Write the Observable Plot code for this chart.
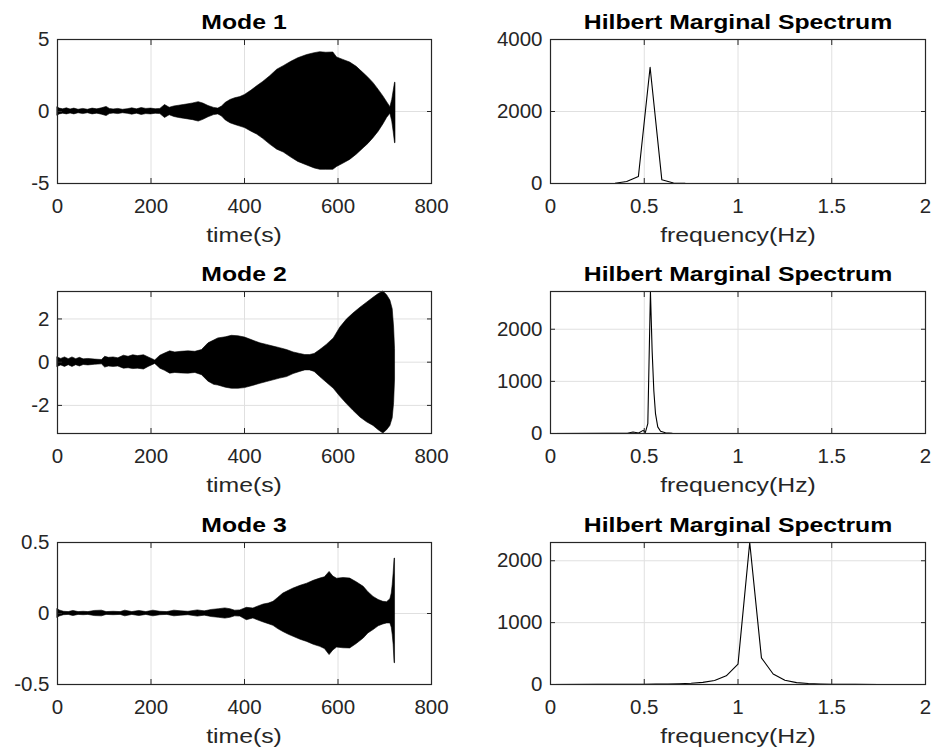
<!DOCTYPE html>
<html>
<head>
<meta charset="utf-8">
<script src="https://cdn.jsdelivr.net/npm/d3@7"></script>
<script src="https://cdn.jsdelivr.net/npm/@observablehq/plot@0.6"></script>
<style>
  html, body { margin: 0; padding: 0; background: #fff; }
  #fig { position: relative; width: 933px; height: 754px; background: #fff; overflow: hidden; }
  #fig > svg { position: absolute; }
  .lbl {
    position: absolute; width: 500px; height: 0; line-height: 0; text-align: center; white-space: nowrap;
    font-family: 'Liberation Sans', Arial, Helvetica, sans-serif; font-size: 21px;
    transform: scaleX(1.18); transform-origin: 50% 0;
  }
  .lbl.title { font-weight: bold; color: #000; }
  .lbl.axis { color: #262626; }
</style>
</head>
<body>
<div id="fig"></div>
<script>
// ---------- tick labels ----------
const timeTicks = [0, 200, 400, 600, 800];
const freqTicks = [0, 0.5, 1, 1.5, 2];
const mode1YTicks = [-5, 0, 5];
const mode2YTicks = [-2, 0, 2];
const mode3YTicks = [-0.5, 0, 0.5];
const spec1YTicks = [0, 2000, 4000];
const spec2YTicks = [0, 1000, 2000];
const spec3YTicks = [0, 1000, 2000];

// ---------- titles ----------
const modeTitles = ["Mode 1", "Mode 2", "Mode 3"];
const specTitle = "Hilbert Marginal Spectrum";
const timeLabel = "time(s)";
const freqLabel = "frequency(Hz)";

// ---------- Mode 1 envelope (time s, upper, lower) ----------
const mode1T = [0, 5, 12, 20, 28, 36, 45, 55, 65, 75, 85, 95, 105, 112, 120, 130, 140, 150, 160, 170, 180, 190, 200, 210, 220, 230, 240, 250, 260, 270, 280, 290, 302, 312, 323, 335, 344, 352, 360, 370, 380, 391, 401, 415, 427, 440, 455, 470, 484, 500, 515, 534, 550, 562, 575, 590, 598, 610, 626, 640, 655, 665, 676, 687, 697, 705, 712, 716, 719, 722, 723];
const mode1Upper = [0.28, 0.2, 0.15, 0.22, 0.14, 0.2, 0.12, 0.18, 0.12, 0.2,
  0.15, 0.22, 0.32, 0.18, 0.14, 0.18, 0.12, 0.16, 0.22, 0.15,
  0.24, 0.18, 0.2, 0.16, 0.18, 0.45, 0.26, 0.35, 0.4, 0.45,
  0.5, 0.56, 0.65, 0.55, 0.38, 0.25, 0.2, 0.35, 0.6, 0.8,
  0.92, 1.0, 1.15, 1.45, 1.75, 2.05, 2.45, 2.9, 3.15, 3.45,
  3.7, 3.92, 4.05, 4.12, 4.08, 4.1, 3.75, 3.6, 3.4, 3.1,
  2.65, 2.35, 1.97, 1.5, 1.05, 0.65, 0.3, 0.8, 1.4, 2.0, 2.0];
const mode1Lower = [-0.28, -0.2, -0.15, -0.2, -0.14, -0.2, -0.12, -0.18, -0.12, -0.2,
  -0.15, -0.22, -0.32, -0.18, -0.14, -0.18, -0.12, -0.16, -0.22, -0.15,
  -0.24, -0.18, -0.2, -0.16, -0.18, -0.45, -0.26, -0.38, -0.45, -0.5,
  -0.55, -0.6, -0.7, -0.58, -0.4, -0.25, -0.2, -0.35, -0.62, -0.82,
  -0.93, -1.05, -1.15, -1.4, -1.6, -1.9, -2.3, -2.65, -2.85, -3.2,
  -3.5, -3.75, -3.95, -4.05, -4.05, -4.05, -3.85, -3.65, -3.36, -3.0,
  -2.55, -2.25, -1.85, -1.4, -0.9, -0.45, -0.15, -0.7, -1.4, -2.2, -2.2];

// ---------- Mode 2 envelope ----------
const mode2T = [0, 8, 16, 24, 32, 40, 48, 56, 66, 80, 95, 102, 110, 120, 130, 142, 152, 162, 172, 185, 195, 209, 220, 230, 241, 252, 265, 280, 295, 309, 323, 335, 344, 360, 373, 387, 401, 418, 434, 448, 462, 476, 491, 505, 519, 530, 540, 550, 562, 576, 591, 605, 619, 633, 648, 662, 676, 687, 697, 705, 712, 717, 720, 722];
const mode2Upper = [0.22, 0.15, 0.22, 0.14, 0.22, 0.14, 0.2, 0.13, 0.15, 0.12,
  0.1, 0.25, 0.2, 0.22, 0.18, 0.3, 0.25, 0.32, 0.28, 0.32,
  0.22, 0.08, 0.3, 0.4, 0.5, 0.45, 0.48, 0.5, 0.48, 0.56,
  0.87, 1.0, 1.1, 1.15, 1.22, 1.2, 1.14, 1.0, 0.87, 0.8,
  0.72, 0.65, 0.56, 0.45, 0.38, 0.33, 0.33, 0.38, 0.56, 0.8,
  1.1, 1.6, 1.97, 2.25, 2.52, 2.75, 2.98, 3.15, 3.27, 3.1,
  2.85, 2.45, 1.6, 0.6];
const mode2Lower = [-0.22, -0.15, -0.22, -0.14, -0.22, -0.14, -0.2, -0.13, -0.15, -0.12,
  -0.1, -0.25, -0.2, -0.22, -0.2, -0.3, -0.28, -0.32, -0.3, -0.34,
  -0.22, -0.08, -0.3, -0.4, -0.53, -0.5, -0.52, -0.53, -0.5, -0.6,
  -0.9, -1.05, -1.08, -1.18, -1.23, -1.23, -1.2, -1.1, -1.0, -0.92,
  -0.84, -0.76, -0.69, -0.55, -0.45, -0.38, -0.38, -0.45, -0.69, -0.95,
  -1.23, -1.6, -1.94, -2.25, -2.56, -2.78, -2.95, -3.15, -3.3, -3.15,
  -2.95, -2.6, -1.9, -0.8];

// ---------- Mode 3 envelope ----------
const mode3T = [0, 6, 14, 24, 34, 45, 56, 66, 80, 95, 105, 120, 135, 145, 160, 175, 190, 205, 220, 235, 250, 265, 280, 300, 315, 330, 345, 359, 370, 380, 391, 405, 419, 430, 441, 452, 462, 472, 483, 495, 505, 520, 534, 548, 562, 572, 582, 590, 598, 612, 626, 640, 655, 665, 676, 687, 697, 705, 712, 715, 717, 719, 721, 722];
const mode3Upper = [0.03, 0.02, 0.012, 0.01, 0.018, 0.01, 0.012, 0.01, 0.018, 0.02,
  0.01, 0.012, 0.01, 0.02, 0.01, 0.018, 0.01, 0.02, 0.012, 0.01,
  0.02, 0.015, 0.012, 0.022, 0.015, 0.025, 0.03, 0.036, 0.03, 0.02,
  0.022, 0.04, 0.035, 0.05, 0.063, 0.07, 0.082, 0.11, 0.14, 0.16,
  0.176, 0.195, 0.21, 0.23, 0.246, 0.255, 0.293, 0.26, 0.245, 0.25,
  0.246, 0.22, 0.188, 0.15, 0.117, 0.095, 0.082, 0.08, 0.1, 0.14,
  0.2, 0.28, 0.387, 0.387];
const mode3Lower = [-0.03, -0.02, -0.012, -0.01, -0.018, -0.01, -0.012, -0.01, -0.018, -0.02,
  -0.01, -0.012, -0.01, -0.02, -0.01, -0.018, -0.01, -0.02, -0.012, -0.01,
  -0.02, -0.015, -0.012, -0.022, -0.015, -0.025, -0.03, -0.036, -0.03, -0.02,
  -0.022, -0.047, -0.035, -0.05, -0.063, -0.075, -0.087, -0.11, -0.13, -0.15,
  -0.164, -0.185, -0.2, -0.22, -0.235, -0.25, -0.293, -0.26, -0.24, -0.245,
  -0.246, -0.215, -0.176, -0.14, -0.117, -0.09, -0.077, -0.07, -0.07, -0.1,
  -0.15, -0.22, -0.35, -0.35];

// ---------- Hilbert marginal spectra (frequency Hz, amplitude) ----------
const spec1F = [0, 0.25, 0.34375, 0.40625, 0.46875, 0.53125, 0.59375, 0.65625, 0.71875, 1.0, 1.5, 1.81];
const spec1P = [0, 0, 8, 55, 195, 3230, 102, 12, 3, 1, 0, 0];
const spec2F = [0, 0.3, 0.41, 0.44, 0.47, 0.494, 0.506, 0.519, 0.533, 0.542, 0.551, 0.56, 0.572, 0.587, 0.613, 0.65, 0.84];
const spec2P = [0, 2, 5, 30, 10, 60, 20, 190, 2724, 1590, 825, 380, 127, 44, 13, 3, 0];
const spec3F = [0, 0.25, 0.5, 0.5625, 0.625, 0.6875, 0.75, 0.8125, 0.875, 0.9375, 1.0, 1.0625, 1.125, 1.1875, 1.25, 1.3125, 1.375, 1.4375, 1.5, 1.625, 1.75, 2.0];
const spec3P = [0, 2, 5, 6, 8, 12, 20, 35, 65, 140, 330, 2295, 430, 170, 70, 30, 15, 8, 5, 3, 1, 0];

// ---------- axis domains ----------
const mode1YDomain = [-5, 5];
const mode2YDomain = [-3.3, 3.27];
const mode3YDomain = [-0.5, 0.5];
const spec1YDomain = [0, 4000];
const spec2YDomain = [0, 2724];
const spec3YDomain = [0, 2295];

// ---------- build tables ----------
const env = (T, U, L) => T.map((t, i) => ({t, hi: U[i], lo: L[i]}));
const spec = (F, P) => F.map((f, i) => ({f, p: P[i]}));

const AXIS = "#262626";
const GRID = "#e0e0e0";
const FONT = "'Liberation Sans', Arial, Helvetica, sans-serif";
const fmt = d => String(d);

const cols = [
  {left: 0, width: 466, ml: 57, mr: 35},
  {left: 466, width: 467, ml: 84, mr: 8}
];
const rows = [
  {top: 0, height: 251, mt: 39, mb: 68},
  {top: 251, height: 251, mt: 40, mb: 69},
  {top: 502, height: 252, mt: 40, mb: 70}
];

const fig = document.getElementById("fig");

function addLabel(text, cls, cx, y) {
  const d = document.createElement("div");
  d.className = "lbl " + cls;
  d.textContent = text;
  d.style.left = (cx - 250) + "px";
  d.style.top = y + "px";
  fig.appendChild(d);
}

function panel({col, row, xDomain, xTicks, yDomain, yTicks, title, xlabel, marks}) {
  const c = cols[col], r = rows[row];
  const svg = Plot.plot({
    width: c.width, height: r.height,
    marginLeft: c.ml, marginRight: c.mr, marginTop: r.mt, marginBottom: r.mb,
    x: {domain: xDomain},
    y: {domain: yDomain},
    style: {fontFamily: FONT, fontSize: "20.5px", color: AXIS, background: "transparent", overflow: "visible"},
    marks: [
      Plot.gridX(xTicks, {stroke: GRID, strokeOpacity: 1}),
      Plot.gridY(yTicks, {stroke: GRID, strokeOpacity: 1}),
      ...marks,
      Plot.frame({stroke: AXIS, strokeWidth: 1.2}),
      // inward tick marks on all four sides
      Plot.axisX(xTicks, {anchor: "bottom", tickSize: 5, dy: -5, tickFormat: () => "", label: null, stroke: AXIS}),
      Plot.axisX(xTicks, {anchor: "top", tickSize: 5, dy: 5, tickFormat: () => "", label: null, stroke: AXIS}),
      Plot.axisY(yTicks, {anchor: "left", tickSize: 5, dx: 5, tickFormat: () => "", label: null, stroke: AXIS}),
      Plot.axisY(yTicks, {anchor: "right", tickSize: 5, dx: -5, tickFormat: () => "", label: null, stroke: AXIS}),
      // tick labels
      Plot.axisX(xTicks, {anchor: "bottom", tickSize: 0, tickPadding: 15, tickFormat: fmt, label: null, fill: AXIS}),
      Plot.axisY(yTicks, {anchor: "left", tickSize: 0, tickPadding: 8, tickFormat: fmt, label: null, fill: AXIS})
    ]
  });
  svg.style.left = c.left + "px";
  svg.style.top = r.top + "px";
  fig.appendChild(svg);
  // title above and axis label below the frame (HTML text, horizontally widened like the source)
  const frameLeft = c.left + c.ml, frameRight = c.left + c.width - c.mr;
  const frameTop = r.top + r.mt, frameBottom = r.top + r.height - r.mb;
  const cx = (frameLeft + frameRight) / 2;
  addLabel(title, "title", cx, frameTop - 17.5);
  addLabel(xlabel, "axis", cx, frameBottom + 51.5);
}

const waveMark = data => Plot.areaY(data, {x: "t", y1: "lo", y2: "hi", fill: "#000", stroke: "#000", strokeWidth: 0.6});
const specMark = data => Plot.lineY(data, {x: "f", y: "p", stroke: "#000", strokeWidth: 1.1});

const waves = [
  {data: env(mode1T, mode1Upper, mode1Lower), yDomain: mode1YDomain, yTicks: mode1YTicks},
  {data: env(mode2T, mode2Upper, mode2Lower), yDomain: mode2YDomain, yTicks: mode2YTicks},
  {data: env(mode3T, mode3Upper, mode3Lower), yDomain: mode3YDomain, yTicks: mode3YTicks}
];
const spectra = [
  {data: spec(spec1F, spec1P), yDomain: spec1YDomain, yTicks: spec1YTicks},
  {data: spec(spec2F, spec2P), yDomain: spec2YDomain, yTicks: spec2YTicks},
  {data: spec(spec3F, spec3P), yDomain: spec3YDomain, yTicks: spec3YTicks}
];

waves.forEach((w, i) => panel({
  col: 0, row: i, xDomain: [0, 800], xTicks: timeTicks,
  yDomain: w.yDomain, yTicks: w.yTicks, title: modeTitles[i], xlabel: timeLabel,
  marks: [waveMark(w.data)]
}));
spectra.forEach((s, i) => panel({
  col: 1, row: i, xDomain: [0, 2], xTicks: freqTicks,
  yDomain: s.yDomain, yTicks: s.yTicks, title: specTitle, xlabel: freqLabel,
  marks: [specMark(s.data)]
}));
</script>
</body>
</html>
